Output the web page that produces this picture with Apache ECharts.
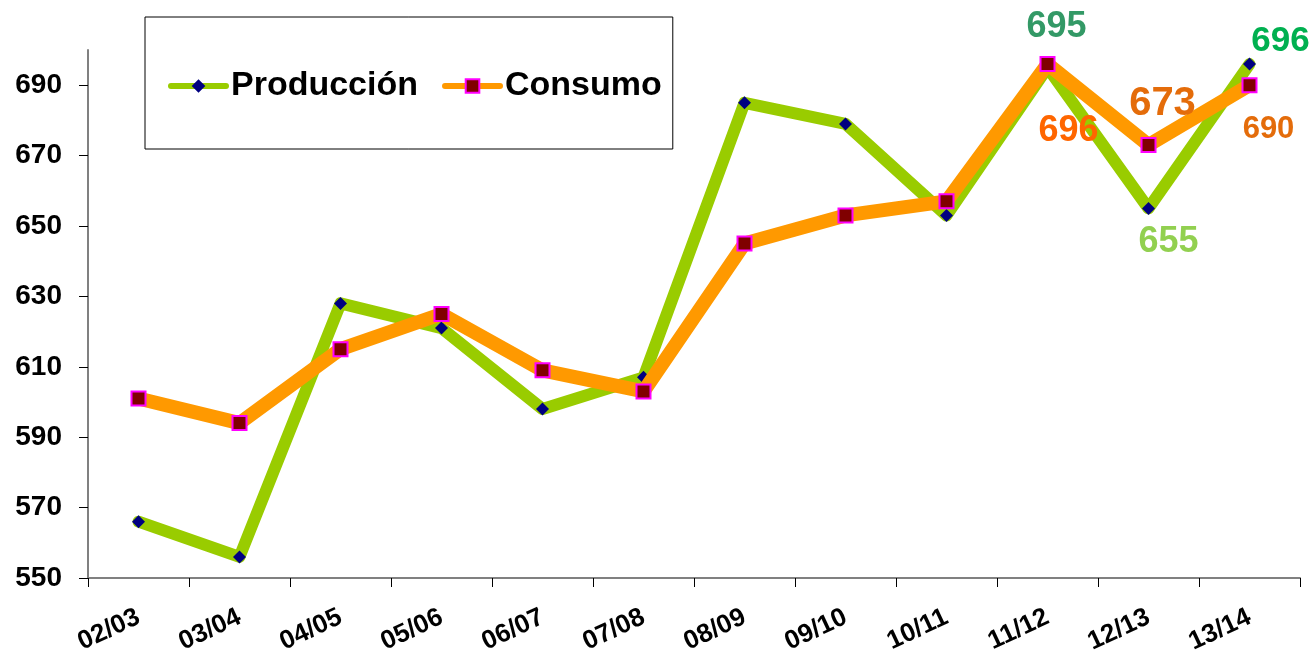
<!DOCTYPE html>
<html lang="es">
<head>
    <meta charset="UTF-8">
    <title>Producción y Consumo</title>
    <script src="https://cdn.jsdelivr.net/npm/echarts@6/dist/echarts.min.js"></script>
    <style>
        html, body { margin: 0; padding: 0; background: #fff; }
    </style>
</head>
<body>
    <div id="main" style="width:1315px; height:655px"></div>
    <script type="text/javascript">
        // datos
        var campanas = ['02/03', '03/04', '04/05', '05/06', '06/07', '07/08',
                        '08/09', '09/10', '10/11', '11/12', '12/13', '13/14'];
        var produccion = [566, 556, 628, 621, 598, 607, 685, 679, 653, 695, 655, 696];
        var consumo = [601, 594, 615, 625, 609, 603, 645, 653, 657, 696, 673, 690];
        var ticksY = [550, 570, 590, 610, 630, 650, 670, 690];

        var fuente = 'Liberation Sans, Arial, sans-serif';

        // etiquetas de los ultimos puntos
        var etiqProd = {
            9:  { color: '#339966', fontSize: 36, offset: [9, -41] },
            10: { color: '#92D050', fontSize: 36, offset: [20, 34] },
            11: { color: '#00B050', fontSize: 35, offset: [31, -23] }
        };
        var etiqCons = {
            9:  { color: '#FF6600', fontSize: 36, offset: [21, 67] },
            10: { color: '#E46C0A', fontSize: 40, offset: [14, -41] },
            11: { color: '#E46C0A', fontSize: 31, offset: [19, 44] }
        };

        function conEtiquetas(valores, etiq) {
            return valores.map(function (v, i) {
                var e = etiq[i];
                if (!e) return v;
                return {
                    value: v,
                    label: {
                        show: true,
                        position: 'inside',
                        align: 'center',
                        verticalAlign: 'middle',
                        offset: e.offset,
                        color: e.color,
                        fontSize: e.fontSize,
                        fontWeight: 'bold',
                        fontFamily: fuente
                    }
                };
            });
        }

        var myChart = echarts.init(document.getElementById('main'));
        var option = {
            animation: false,
            backgroundColor: '#fff',
            grid: { left: 88, right: 15, top: 50, bottom: 77, containLabel: false, outerBoundsMode: 'none' },
            legend: {
                left: 145,
                top: 17,
                padding: [52, 11, 46, 23],
                borderColor: '#000',
                borderWidth: 1,
                itemWidth: 55,
                itemHeight: 17,
                itemGap: 24,
                lineStyle: { width: 6 },
                textStyle: { fontSize: 34, fontWeight: 'bold', fontFamily: fuente, color: '#000' },
                data: ['Producción', 'Consumo']
            },
            xAxis: {
                type: 'category',
                data: campanas,
                boundaryGap: true,
                axisLine: { lineStyle: { color: '#808080', width: 2 } },
                axisTick: { show: true, length: 9, lineStyle: { color: '#000', width: 1 } },
                axisLabel: {
                    rotate: 25,
                    margin: 38,
                    fontSize: 26,
                    fontWeight: 'bold',
                    fontFamily: fuente,
                    color: '#000'
                },
                splitLine: { show: false }
            },
            yAxis: {
                type: 'value',
                min: 550,
                max: 700,
                interval: 20,
                axisLine: { show: true, lineStyle: { color: '#808080', width: 2 } },
                axisTick: { show: true, length: 9, customValues: ticksY, lineStyle: { color: '#000', width: 1 } },
                axisLabel: {
                    customValues: ticksY,
                    margin: 26,
                    fontSize: 28,
                    fontWeight: 'bold',
                    fontFamily: fuente,
                    color: '#000'
                },
                splitLine: { show: false }
            },
            series: [
                {
                    name: 'Producción',
                    type: 'line',
                    data: conEtiquetas(produccion, etiqProd),
                    symbol: 'diamond',
                    symbolSize: 13,
                    showAllSymbol: true,
                    lineStyle: { color: '#99CC00', width: 12, cap: 'round', join: 'round' },
                    itemStyle: { color: '#000080', borderWidth: 0 },
                    label: { show: false },
                    z: 2
                },
                {
                    name: 'Consumo',
                    type: 'line',
                    data: conEtiquetas(consumo, etiqCons),
                    symbol: 'rect',
                    symbolSize: 14,
                    showAllSymbol: true,
                    lineStyle: { color: '#FF9900', width: 14, cap: 'round', join: 'round' },
                    itemStyle: { color: '#800000', borderColor: '#FF00FF', borderWidth: 2 },
                    label: { show: false },
                    z: 3
                }
            ]
        };
        myChart.setOption(option);
    </script>
</body>
</html>
